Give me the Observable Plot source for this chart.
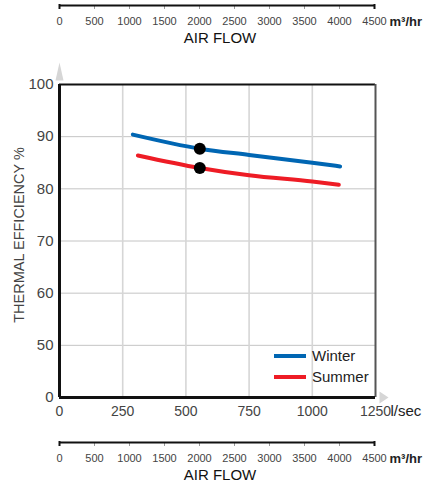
<!DOCTYPE html>
<html>
<head>
<meta charset="utf-8">
<script src="https://cdn.jsdelivr.net/npm/d3@7"></script>
<script src="https://cdn.jsdelivr.net/npm/@observablehq/plot@0.6"></script>
<style>
  body { margin: 0; background: #fff; }
  #chart { position: relative; width: 430px; height: 483px; font-family: "Liberation Sans", Arial, sans-serif; }
  #chart svg { position: absolute; left: 0; overflow: visible; }
</style>
</head>
<body>
<div id="chart"></div>
<script>
// ---- data ----
const winterLs  = [290, 555, 750, 1000, 1110];
const winterEff = [90.4, 87.7, 86.5, 85.0, 84.3];
const summerLs  = [310, 555, 750, 1000, 1105];
const summerEff = [86.4, 84.0, 82.6, 81.4, 80.8];
const designLs = [555, 555];
const designEff = [87.7, 84.0];
const seriesNames = ["Winter", "Summer"];
const seriesColors = ["#0066b3", "#ee1c25"];
const yTicks = [0, 50, 60, 70, 80, 90, 100];
const xTicksLs = [0, 250, 500, 750, 1000, 1250];
const xTicksM3 = [0, 500, 1000, 1500, 2000, 2500, 3000, 3500, 4000, 4500];
const yTitle = "THERMAL EFFICIENCY %";
const flowTitle = "AIR FLOW";
const unitLs = "l/sec";
const unitM3 = "m³/hr";

const rows = [
  ...winterLs.map((x, i) => ({series: "Winter", x, y: winterEff[i]})),
  ...summerLs.map((x, i) => ({series: "Summer", x, y: summerEff[i]}))
];
const design = designLs.map((x, i) => ({x, y: designEff[i]}));

const font = '"Liberation Sans", Arial, sans-serif';
const chart = document.getElementById("chart");

const triShape = {
  draw(ctx, l, r) {
    ctx.moveTo(-r, 0);
    ctx.lineTo(0, -l);
    ctx.lineTo(r, 0);
    ctx.closePath();
  }
};

// broken y axis: 0..50 compressed into one grid step
const yBreak = v => (v < 50 ? 40 + v / 5 : v);

// ---- secondary m3/hr axis ----
function flowAxis(topPx) {
  const svg = Plot.plot({
    width: 430, height: 60,
    marginLeft: 59, marginRight: 56, marginTop: 0, marginBottom: 55,
    style: {fontFamily: font, background: "transparent", overflow: "visible"},
    x: {domain: [0, 4500]},
    y: {domain: [0, 1], axis: null},
    marks: [
      Plot.axisX(xTicksM3, {anchor: "bottom", tickSize: 4, tickPadding: 8, stroke: "#999", fill: "#444", fontSize: 11, label: null, tickFormat: d => String(d), style: {letterSpacing: "-0.4px"}}),
      Plot.ruleY([0], {x1: 0, x2: 4500, stroke: "#111", strokeWidth: 2.2}),
      Plot.tickX([0, 4500], {x: d => d, dy: 4, stroke: "#111", strokeWidth: 2}),
      Plot.text([unitM3], {x: () => 4500, frameAnchor: "bottom", lineAnchor: "middle", dy: 16, dx: 15, textAnchor: "start", fontSize: 13, fontWeight: "bold", fill: "#222"}),
      Plot.text([flowTitle], {frameAnchor: "bottom", lineAnchor: "middle", dy: 33, dx: 3, fontSize: 15, fill: "#111"})
    ]
  });
  svg.style.top = (topPx - 5) + "px";
  chart.appendChild(svg);
}

flowAxis(5);

// ---- main chart ----
const main = Plot.plot({
  width: 430, height: 370,
  marginLeft: 59, marginRight: 55, marginTop: 34, marginBottom: 23,
  style: {fontFamily: font, background: "transparent", overflow: "visible"},
  x: {domain: [0, 1250]},
  y: {domain: [40, 100], transform: yBreak},
  color: {domain: seriesNames, range: seriesColors},
  marks: [
    Plot.gridY([50, 60, 70, 80, 90], {stroke: "#c4c4c4", strokeOpacity: 1, strokeWidth: 1}),
    Plot.gridX([250, 500, 750, 1000], {stroke: "#d6d6d6", strokeOpacity: 1, strokeWidth: 1.6}),
    Plot.ruleY([100], {stroke: "#111", strokeWidth: 2.2}),
    Plot.ruleX([1250], {stroke: "#555", strokeWidth: 2}),
    Plot.ruleX([0], {stroke: "#111", strokeWidth: 3}),
    Plot.ruleY([0], {stroke: "#111", strokeWidth: 3.2}),
    Plot.vector([100], {x: () => 0, y: d => d, dy: -4, anchor: "start", length: 18, r: 4, rotate: 0, shape: triShape, fill: "#d6d6d6", stroke: "none"}),
    Plot.vector([0], {x: () => 1250, y: d => d, dx: 4, anchor: "start", length: 9, r: 6, rotate: 90, shape: triShape, fill: "#d6d6d6", stroke: "none"}),
    Plot.line(rows, {x: "x", y: "y", z: "series", stroke: "series", strokeWidth: 4, curve: "monotone-x"}),
    Plot.dot(design, {x: "x", y: "y", r: 6, fill: "#000"}),
    Plot.axisY(yTicks, {tickSize: 0, tickPadding: 6, fontSize: 15, fill: "#444", label: null, tickFormat: d => String(d)}),
    Plot.axisX(xTicksLs, {tickSize: 0, tickPadding: 9, fontSize: 14, fill: "#444", label: null, tickFormat: d => String(d), style: {letterSpacing: "-0.6px"}}),
    Plot.text([unitLs], {x: () => 1250, y: () => 0, dy: 14, dx: 15, textAnchor: "start", fontSize: 15, fill: "#222"}),
    Plot.text([yTitle], {frameAnchor: "left", textAnchor: "middle", lineAnchor: "middle", dx: -40, dy: -6, rotate: -90, fontSize: 14.5, fill: "#444"})
  ]
});
main.style.top = "50px";
chart.appendChild(main);

// legend (inside plot area)
const lg = d3.select(main).append("g").attr("font-family", font).attr("font-size", 15).attr("text-anchor", "start");
seriesNames.forEach((name, i) => {
  const y = 306 + i * 21;
  lg.append("line").attr("x1", 274).attr("x2", 306).attr("y1", y).attr("y2", y)
    .attr("stroke", seriesColors[i]).attr("stroke-width", 4);
  lg.append("text").attr("x", 312).attr("y", y).attr("dy", "0.35em").attr("text-anchor", "start").attr("fill", "#222").text(name);
});

flowAxis(442);
</script>
</body>
</html>
